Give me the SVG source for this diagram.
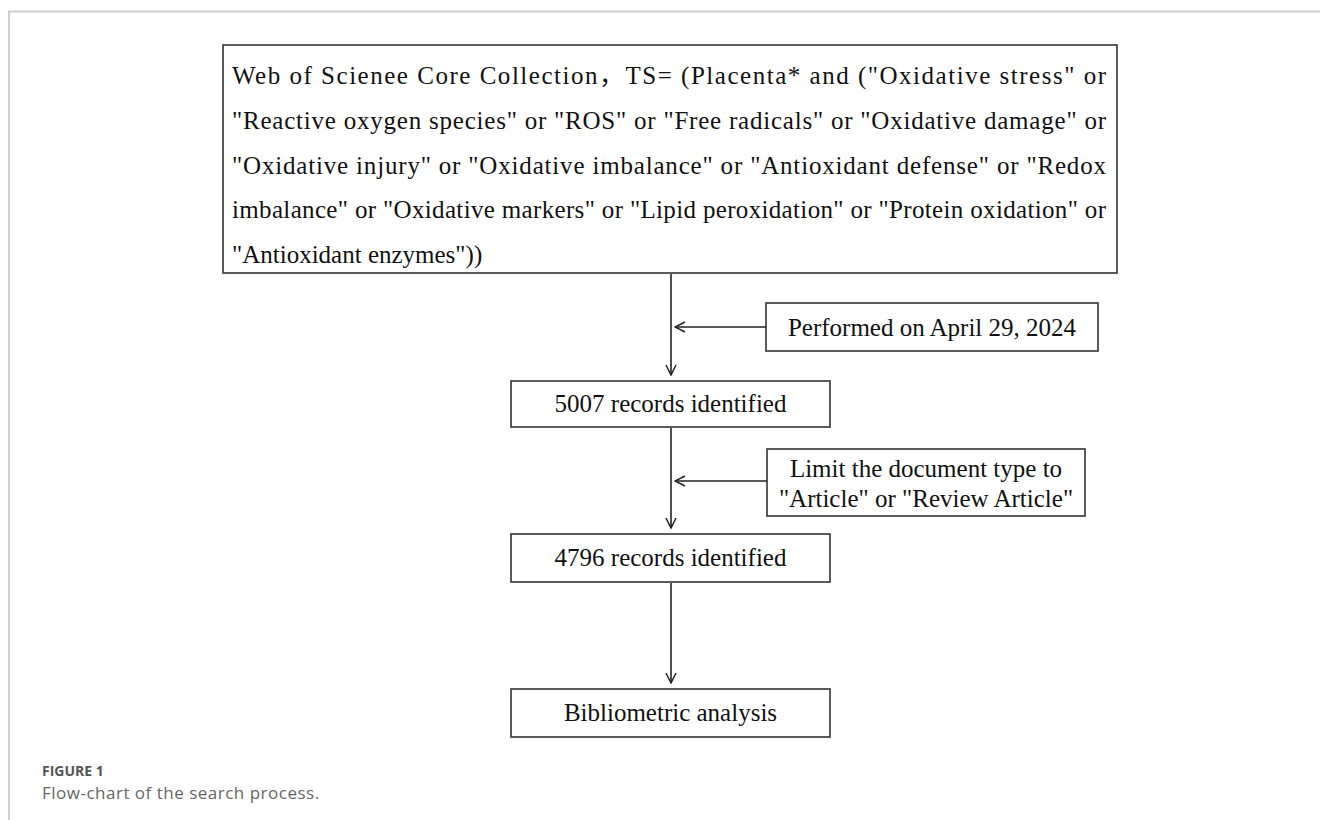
<svg xmlns="http://www.w3.org/2000/svg" width="1320" height="820" viewBox="0 0 1320 820">
<defs>
<marker id="arr" viewBox="0 0 12 12" refX="11" refY="6" markerWidth="12" markerHeight="12" markerUnits="userSpaceOnUse" orient="auto">
<path d="M1,1 L11,6 L1,11" fill="none" stroke="#222" stroke-width="1.5"/>
</marker>
<style>
.box{fill:#fff;stroke:#333;stroke-width:1.6}
.t{font-family:"Liberation Serif","Noto Sans CJK SC",serif;font-size:25px;fill:#111}
.c{text-anchor:middle}
.line{stroke:#222;stroke-width:1.6;fill:none;marker-end:url(#arr)}
.frame{stroke:#d0d0d0;stroke-width:2;fill:none}
.cap1{font-family:"Open Sans",sans-serif;font-size:14px;font-weight:bold;fill:#555}
.cap2{font-family:"Open Sans",sans-serif;font-size:17px;letter-spacing:0.5px;fill:#666}
</style>
</defs>
<rect width="1320" height="820" fill="#fff"/>
<path class="frame" d="M9,820 V11.5 H1320"/>

<g id="query">
<rect class="box" x="223" y="45" width="894" height="228"/>
<text class="t" x="232" y="84" textLength="874" lengthAdjust="spacing">Web of Scienee Core Collection，TS= (Placenta* and ("Oxidative stress" or</text>
<text class="t" x="232" y="128.75" textLength="874" lengthAdjust="spacing">"Reactive oxygen species" or "ROS" or "Free radicals" or "Oxidative damage" or</text>
<text class="t" x="232" y="173.5" textLength="874" lengthAdjust="spacing">"Oxidative injury" or "Oxidative imbalance" or "Antioxidant defense" or "Redox</text>
<text class="t" x="232" y="218.25" textLength="874" lengthAdjust="spacing">imbalance" or "Oxidative markers" or "Lipid peroxidation" or "Protein oxidation" or</text>
<text class="t" x="232" y="263">"Antioxidant enzymes"))</text>
</g>

<g id="performed">
<rect class="box" x="766" y="303" width="332" height="48"/>
<text class="t c" x="932" y="336">Performed on April 29, 2024</text>
</g>

<g id="n5007">
<rect class="box" x="511" y="381" width="319" height="46"/>
<text class="t c" x="670.5" y="412">5007 records identified</text>
</g>

<g id="limit">
<rect class="box" x="767" y="449" width="318" height="67"/>
<text class="t c" x="926" y="477">Limit the document type to</text>
<text class="t c" x="926" y="507">"Article" or "Review Article"</text>
</g>

<g id="n4796">
<rect class="box" x="511" y="534" width="319" height="48"/>
<text class="t c" x="670.5" y="566">4796 records identified</text>
</g>

<g id="biblio">
<rect class="box" x="511" y="689" width="319" height="48"/>
<text class="t c" x="670.5" y="721">Bibliometric analysis</text>
</g>

<g id="connectors">
<line class="line" x1="671" y1="274" x2="671" y2="375"/>
<line class="line" x1="766" y1="327" x2="675" y2="327"/>
<line class="line" x1="671" y1="428" x2="671" y2="528"/>
<line class="line" x1="767" y1="481" x2="675" y2="481"/>
<line class="line" x1="671" y1="583" x2="671" y2="683"/>
</g>

<g id="caption">
<text class="cap1" x="42" y="776">FIGURE 1</text>
<text class="cap2" x="42" y="799">Flow-chart of the search process.</text>
</g>
</svg>
